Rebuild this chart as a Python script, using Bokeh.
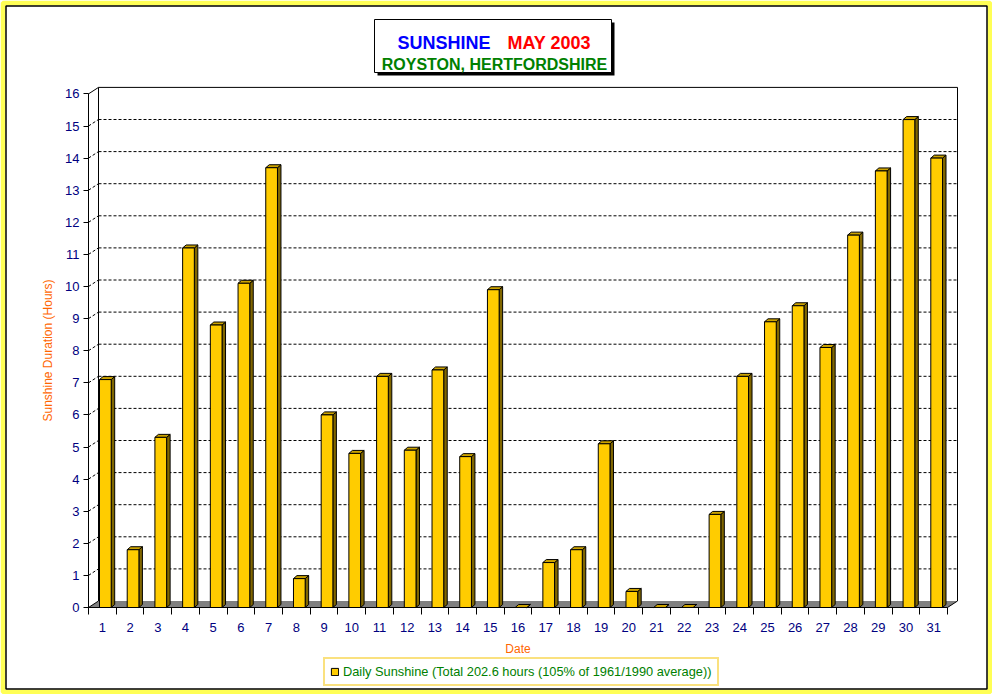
import numpy as np
from bokeh.plotting import figure
from bokeh.models import Range1d, FixedTicker, Label, ColumnDataSource, Legend, LegendItem
from bokeh.embed import file_html
from bokeh.resources import INLINE

# ---------------- data ----------------
days = [str(d) for d in range(1, 32)]
sunshine = [7.1, 1.8, 5.3, 11.2, 8.8, 10.1, 13.7, 0.9, 6.0, 4.8,
            7.2, 4.9, 7.4, 4.7, 9.9, 0.0, 1.4, 1.8, 5.1, 0.5,
            0.0, 0.0, 2.9, 7.2, 8.9, 9.4, 8.1, 11.6, 13.6, 15.2, 14.0]
y_ticks = list(range(0, 17))
title_word = "SUNSHINE"
title_month = "MAY 2003"
title_place = "ROYSTON, HERTFORDSHIRE"
x_title = "Date"
y_title = "Sunshine Duration (Hours)"
legend_text = "Daily Sunshine (Total 202.6 hours (105% of 1961/1990 average))"

# ---------------- geometry ----------------
W, H = 992, 694
X0, Y0 = 88, 607                # page position of the origin (day boundary 0, value 0)
PXX, PXY = 27.71, 32.1          # pixels per data unit
DX, DY = 10 / PXX, 6.5 / PXY    # depth of the back wall
BAR_L, BAR_W = 11 / PXX, 11.7 / PXX
BDX, BDY = 3.5 / PXX, 3 / PXY   # depth of bars
N = len(days)
YMAX = y_ticks[-1]
FONT = "Liberation Sans"

p = figure(width=W, height=H, output_backend="svg", toolbar_location=None,
           x_range=Range1d(-X0 / PXX, (W - X0) / PXX),
           y_range=Range1d(-(H - Y0) / PXY, Y0 / PXY),
           min_border_left=0, min_border_right=0, min_border_top=0,
           min_border_bottom=0)
p.outline_line_color = None
p.xgrid.visible = False
p.ygrid.visible = False
p.background_fill_color = "white"
p.border_fill_color = "white"

def dx_(px):
    return (px - X0) / PXX

def dy_(py):
    return (Y0 - py) / PXY

# outer yellow border with a thin black inner line
p.quad(left=[dx_(2.5)], right=[dx_(W - 2.5)], top=[dy_(2.5)], bottom=[dy_(H - 2.5)],
       fill_color=None, line_color="#FFFF55", line_width=5)
p.quad(left=[dx_(5.5)], right=[dx_(W - 5.5)], top=[dy_(5.5)], bottom=[dy_(H - 5.5)],
       fill_color=None, line_color="black", line_width=1.5)

# floor
p.patch([0, N, N + DX, DX], [0, 0, DY, DY], fill_color="#808080", line_color=None)
p.segment([N], [0], [N + DX], [DY], line_color="black")
# back wall outline
p.segment([DX, DX, N + DX], [DY, YMAX + DY, DY], [DX, N + DX, N + DX],
          [YMAX + DY, YMAX + DY, YMAX + DY], line_color="black")
# side diagonals at 0 and top
p.segment([0, 0], [0, YMAX], [DX, DX], [DY, YMAX + DY], line_color="black")
# dashed gridlines on the back wall and side diagonals
gy = np.array(y_ticks[1:-1], dtype=float)
p.segment(np.full(len(gy), DX), gy + DY, np.full(len(gy), N + DX), gy + DY,
          line_color="black", line_dash="3 2")
p.segment(np.zeros(len(gy)), gy, np.full(len(gy), DX), gy + DY,
          line_color="black", line_dash="3 2")

# bars
v = np.array(sunshine)
idx = np.arange(N)
l = idx + BAR_L
r = l + BAR_W
side_xs = [[a, a + BDX, a + BDX, a] for a in r]
side_ys = [[0, BDY, h + BDY, h] for h in v]
top_xs = [[a, a + BDX, b + BDX, b] for a, b in zip(l, r)]
top_ys = [[h, h + BDY, h + BDY, h] for h in v]
p.patches(side_xs, side_ys, fill_color="#806600", line_color="black", line_width=1)
p.patches(top_xs, top_ys, fill_color="#CCA300", line_color="black", line_width=1)
src = ColumnDataSource(dict(left=l, right=r, top=v, bottom=np.zeros(N)))
bars = p.quad(left="left", right="right", top="top", bottom="bottom", source=src,
              fill_color="#FFCC00", line_color="black", line_width=1)

# axes (drawn at the origin inside the full-canvas frame)
yax = p.yaxis[0]
yax.fixed_location = 0
yax.bounds = (0, YMAX)
yax.ticker = FixedTicker(ticks=y_ticks, minor_ticks=[])
yax.major_tick_out = 5
yax.major_tick_in = 0
yax.major_label_standoff = 4
yax.major_label_text_font = FONT
yax.major_label_text_font_size = "13px"
yax.major_label_text_color = "#000080"
yax.axis_label = y_title
yax.axis_label_text_font = FONT
yax.axis_label_text_font_size = "12px"
yax.axis_label_text_font_style = "normal"
yax.axis_label_text_color = "#FF6600"
yax.axis_label_standoff = 7
yax.axis_line_color = "black"

xax = p.xaxis[0]
centers = [i + 0.5 for i in range(N)]
xax.fixed_location = 0
xax.bounds = (0, N)
xax.ticker = FixedTicker(ticks=centers, minor_ticks=list(range(N + 1)))
xax.major_label_overrides = {c: d for c, d in zip(centers, days)}
xax.major_tick_out = 0
xax.major_tick_in = 0
xax.minor_tick_out = 7
xax.minor_tick_in = 0
xax.minor_tick_line_color = "black"
xax.major_label_standoff = 8
xax.major_label_text_font = FONT
xax.major_label_text_font_size = "13px"
xax.major_label_text_color = "#000080"
xax.axis_label = x_title
xax.axis_label_text_font = FONT
xax.axis_label_text_font_size = "12px"
xax.axis_label_text_font_style = "normal"
xax.axis_label_text_color = "#FF6600"
xax.axis_label_standoff = 7
xax.axis_line_color = "black"

# title box
p.quad(left=[dx_(377)], right=[dx_(614)], top=[dy_(22)], bottom=[dy_(75)],
       fill_color="black", line_color=None)
p.quad(left=[dx_(374)], right=[dx_(611)], top=[dy_(19)], bottom=[dy_(72)],
       fill_color="white", line_color="black")
for txt, x, y, col, al, fs in [(title_word, 397, 42, "#0000FF", "left", "18px"),
                               (title_month, 507, 42, "#FF0000", "left", "18px"),
                               (title_place, 494, 63.5, "#008000", "center", "16px")]:
    p.add_layout(Label(x=x, y=H - y, x_units="screen", y_units="screen", text=txt,
                       text_font=FONT, text_font_style="bold", text_font_size=fs,
                       text_color=col, text_align=al, text_baseline="alphabetic"))

# legend under the axis
lg = Legend(items=[LegendItem(label=legend_text, renderers=[bars])],
            location=(323, H - 686), orientation="horizontal",
            label_text_font=FONT, label_text_font_size="12.8px", label_text_color="#008000",
            label_height=15, glyph_width=9, glyph_height=9, label_standoff=4,
            padding=5, margin=0, spacing=0,
            border_line_color="#F5C400", border_line_width=2,
            background_fill_color="white", background_fill_alpha=1)
p.add_layout(lg, "center")

open("out.html", "w").write(file_html(p, INLINE))
